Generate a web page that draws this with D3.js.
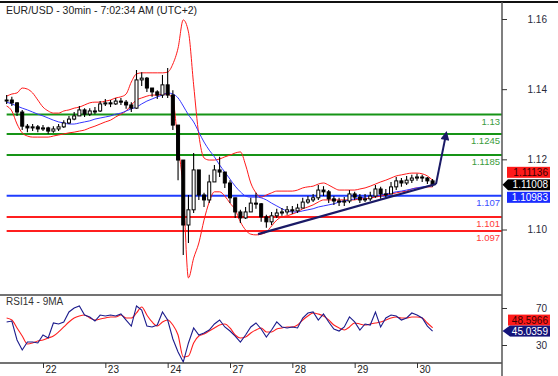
<!DOCTYPE html>
<html>
<head>
<meta charset="utf-8">
<script src="https://cdn.jsdelivr.net/npm/d3@7"></script>
<style>
body { margin: 0; background: #fff; }
svg { display: block; font-family: Arial, "Liberation Sans", sans-serif; }
</style>
</head>
<body>
<div id="chart"></div>
<script>
var width = 558;
var height = 376;
var axisX = 502;
var mainTop = 2, mainBottom = 295, rsiBottom = 363;

var title = "EUR/USD - 30min - 7:02:34 AM (UTC+2)";
var rsiTitle = "RSI14 - 9MA";

// trading days (weekend removed), one bar every 2 hours
var dayTicks = [0, 1, 2, 3, 4, 5, 6];
var dayLabels = ["22", "23", "24", "27", "28", "29", "30"];
var firstBar = -7 / 12, barStep = 1 / 12;

var closes = [1.1341,1.1333,1.1307,1.1267,1.1262,1.1265,1.1259,1.1262,1.1253,1.1259,
  1.1265,1.1276,1.1287,1.1296,1.1313,1.1301,1.1310,1.1310,1.1330,1.1333,
  1.1330,1.1338,1.1335,1.1327,1.1318,1.1398,1.1403,1.1375,1.1364,1.1355,
  1.1384,1.1355,1.1270,1.1171,1.0987,1.1030,1.1143,1.1072,1.1058,1.1109,
  1.1143,1.1137,1.1106,1.1064,1.1024,1.1007,1.1024,1.1049,1.1047,1.1010,
  1.0996,1.1013,1.1021,1.1024,1.1030,1.1027,1.1035,1.1052,1.1058,1.1064,
  1.1086,1.1081,1.1061,1.1055,1.1052,1.1055,1.1075,1.1066,1.1058,1.1061,
  1.1069,1.1089,1.1075,1.1075,1.1095,1.1112,1.1106,1.1114,1.1120,1.1123,
  1.1120,1.1112,1.11008];
var highs = [1.1355,1.1350,1.1335,1.1313,1.1273,1.1273,1.1270,1.1270,1.1265,1.1267,
  1.1273,1.1284,1.1296,1.1307,1.1324,1.1318,1.1318,1.1321,1.1338,1.1344,
  1.1341,1.1347,1.1347,1.1341,1.1335,1.1426,1.1420,1.1406,1.1375,1.1369,
  1.1412,1.1432,1.1369,1.1270,1.1171,1.1072,1.1191,1.1143,1.1078,1.1129,
  1.1157,1.1180,1.1137,1.1114,1.1064,1.1030,1.1038,1.1064,1.1078,1.1049,
  1.1016,1.1024,1.1033,1.1035,1.1041,1.1041,1.1047,1.1064,1.1069,1.1075,
  1.1100,1.1097,1.1086,1.1069,1.1064,1.1066,1.1086,1.1081,1.1075,1.1075,
  1.1081,1.1100,1.1095,1.1089,1.1109,1.1123,1.1120,1.1126,1.1129,1.1132,
  1.1129,1.1123,1.1117];
var lows = [1.1330,1.1324,1.1296,1.1256,1.1250,1.1253,1.1250,1.1253,1.1245,1.1248,
  1.1253,1.1262,1.1273,1.1284,1.1296,1.1293,1.1296,1.1301,1.1307,1.1324,
  1.1321,1.1327,1.1327,1.1316,1.1307,1.1316,1.1381,1.1364,1.1350,1.1344,
  1.1347,1.1347,1.1256,1.1114,1.0902,1.0936,1.1021,1.1058,1.1038,1.1049,
  1.1109,1.1123,1.1092,1.1049,1.1007,1.0993,1.1004,1.1024,1.1033,1.0996,
  1.0979,1.0987,1.1007,1.1013,1.1016,1.1018,1.1021,1.1035,1.1047,1.1052,
  1.1058,1.1069,1.1049,1.1044,1.1041,1.1041,1.1049,1.1058,1.1049,1.1052,
  1.1055,1.1064,1.1061,1.1061,1.1075,1.1086,1.1095,1.1100,1.1106,1.1112,
  1.1109,1.1103,1.1095];

var bbUpper = [1.1352,1.1358,1.1361,1.1375,1.1372,1.1361,1.1341,1.1321,1.1310,1.1304,
  1.1304,1.1310,1.1313,1.1318,1.1321,1.1327,1.1333,1.1335,1.1335,1.1338,
  1.1341,1.1347,1.1350,1.1358,1.1392,1.1415,1.1418,1.1418,1.1418,1.1418,
  1.1418,1.1420,1.1443,1.1488,1.1568,1.1534,1.1384,1.1242,1.1177,1.1171,
  1.1171,1.1174,1.1180,1.1185,1.1191,1.1194,1.1157,1.1106,1.1078,1.1066,
  1.1072,1.1078,1.1083,1.1083,1.1083,1.1083,1.1086,1.1092,1.1095,1.1097,
  1.1103,1.1106,1.1100,1.1092,1.1086,1.1086,1.1086,1.1086,1.1089,1.1092,
  1.1097,1.1103,1.1109,1.1114,1.1120,1.1126,1.1129,1.1132,1.1134,1.1134,
  1.1132,1.1126,1.11136];
var bbLower = [1.1324,1.1310,1.1273,1.1248,1.1239,1.1236,1.1236,1.1236,1.1236,1.1239,
  1.1242,1.1245,1.1248,1.1250,1.1253,1.1256,1.1262,1.1267,1.1273,1.1279,
  1.1284,1.1293,1.1301,1.1310,1.1327,1.1341,1.1347,1.1352,1.1355,1.1355,
  1.1358,1.1358,1.1341,1.1214,1.1086,1.0837,1.0893,1.0936,1.1001,1.1052,
  1.1081,1.1081,1.1069,1.1049,1.1030,1.0996,1.0973,1.0961,1.0959,1.0961,
  1.0967,1.0984,1.1001,1.1010,1.1013,1.1018,1.1024,1.1033,1.1038,1.1044,
  1.1052,1.1058,1.1058,1.1058,1.1058,1.1058,1.1058,1.1058,1.1061,1.1061,
  1.1064,1.1066,1.1069,1.1072,1.1075,1.1078,1.1081,1.1083,1.1089,1.1092,
  1.1092,1.1095,1.1095];
var maBlue = [1.1335,1.1330,1.1324,1.1318,1.1313,1.1307,1.1301,1.1296,1.1290,1.1284,
  1.1279,1.1276,1.1273,1.1273,1.1276,1.1279,1.1282,1.1287,1.1290,1.1293,
  1.1296,1.1301,1.1304,1.1310,1.1316,1.1321,1.1330,1.1338,1.1344,1.1350,
  1.1355,1.1361,1.1358,1.1347,1.1324,1.1299,1.1279,1.1250,1.1222,1.1199,
  1.1180,1.1157,1.1137,1.1117,1.1097,1.1081,1.1069,1.1066,1.1066,1.1064,
  1.1058,1.1049,1.1041,1.1033,1.1027,1.1024,1.1024,1.1027,1.1030,1.1033,
  1.1038,1.1041,1.1044,1.1047,1.1052,1.1055,1.1058,1.1061,1.1064,1.1066,
  1.1069,1.1069,1.1072,1.1075,1.1078,1.1081,1.1083,1.1086,1.1089,1.1092,
  1.1095,1.1097,1.10983];

var rsi = [54.9,55.9,35.4,24.6,33.2,33.2,32.2,40.8,37.6,53.8,
  52.7,54.9,65.7,70.0,72.2,62.4,60.3,55.9,62.4,61.4,
  62.4,61.4,63.5,57.0,50.5,72.2,67.8,50.5,49.5,51.6,
  65.7,57.0,36.5,22.4,11.6,32.2,48.4,40.8,43.0,46.2,
  52.7,57.0,49.5,45.1,39.7,33.2,40.8,49.5,53.8,47.3,
  38.6,46.2,54.9,49.5,48.4,49.5,48.4,59.2,64.6,65.7,
  57.0,63.5,54.9,47.3,45.1,49.5,60.3,54.9,46.2,52.7,
  51.6,65.7,49.5,59.2,62.4,61.4,57.0,59.2,64.6,62.4,
  59.2,50.5,45.0359];
var rsiMa = [59.2,57.0,48.4,39.7,31.1,32.2,34.3,35.4,37.6,39.7,
  44.1,49.5,54.9,59.2,61.4,62.4,59.2,57.0,58.1,59.2,
  60.3,60.3,62.4,59.2,59.2,64.6,71.1,62.4,54.9,50.5,
  54.9,57.0,51.6,40.8,17.0,18.1,32.2,39.7,41.9,45.1,
  48.4,51.6,52.7,48.4,40.8,37.6,38.6,43.0,46.2,48.4,
  44.1,44.1,47.3,48.4,49.5,49.5,51.6,57.0,61.4,64.6,
  63.5,61.4,57.0,51.6,48.4,46.2,49.5,53.8,52.7,51.6,
  52.7,53.8,54.9,57.0,59.2,60.3,59.2,59.2,60.3,60.3,
  59.2,53.8,48.5966];

var priceTicks = [1.10, 1.12, 1.14, 1.16];
var rsiTicks = [30, 70];

var levelValues = [1.13, 1.1245, 1.1185, 1.107, 1.101, 1.097];
var levelLabels = ["1.13", "1.1245", "1.1185", "1.107", "1.101", "1.097"];
var levelKinds = ["res", "res", "res", "pivot", "sup", "sup"];

var trendLine = [[3.45, 1.0961], [6.305, 1.1103]];
var arrowLine = [[6.305, 1.1103], [6.47, 1.1248]];

var levelStyle = {
  res:   { line: "#169416", text: "#3c9c3c" },
  pivot: { line: "#1f3cff", text: "#3a4fff" },
  sup:   { line: "#ff1f1f", text: "#ff3a3a" }
};
var navy = "#1a1a66";

var svg = d3.select("#chart").append("svg")
  .attr("width", width)
  .attr("height", height);

var x = d3.scaleLinear().domain([0, 6]).range([43, 417]);
var y = d3.scaleLinear().domain([1.097, 1.13]).range([231, 114.5]);
var yAxisScale = d3.scaleLinear().domain([1.10, 1.16]).range([229.5, 19]);
var rsiY = d3.scaleLinear().domain([30, 70]).range([345, 308]);

function barDay(i) { return firstBar + i * barStep; }

var defs = svg.append("defs");
defs.append("clipPath").attr("id", "clipMain").append("rect")
  .attr("x", 0).attr("y", mainTop + 1).attr("width", axisX).attr("height", mainBottom - mainTop - 1);
defs.append("clipPath").attr("id", "clipRsi").append("rect")
  .attr("x", 0).attr("y", mainBottom + 1).attr("width", axisX).attr("height", rsiBottom - mainBottom - 1);
defs.append("marker")
  .attr("id", "arrowHead")
  .attr("viewBox", "0 0 10 10")
  .attr("refX", 8).attr("refY", 5)
  .attr("markerUnits", "userSpaceOnUse")
  .attr("markerWidth", 10).attr("markerHeight", 9)
  .attr("orient", "auto")
  .append("path").attr("d", "M0,0 L10,5 L0,10 z").attr("fill", navy);

var main = svg.append("g").attr("clip-path", "url(#clipMain)");

// support / resistance levels
levelValues.forEach(function (v, i) {
  var st = levelStyle[levelKinds[i]];
  main.append("line")
    .attr("x1", x(barDay(0))).attr("x2", axisX)
    .attr("y1", y(v)).attr("y2", y(v))
    .attr("stroke", st.line).attr("stroke-width", 2);
  main.append("text")
    .attr("x", axisX - 2).attr("y", y(v) + 10)
    .attr("text-anchor", "end")
    .style("font-size", "9.5px")
    .style("fill", st.text)
    .text(levelLabels[i]);
});

var idx = d3.range(closes.length);
function seriesLine(arr, scale) {
  return d3.line()
    .x(function (i) { return x(barDay(i)); })
    .y(function (i) { return scale(arr[i]); });
}

main.append("path").datum(idx)
  .attr("d", seriesLine(bbUpper, y).curve(d3.curveMonotoneX))
  .attr("fill", "none").attr("stroke", "#ff1a1a").attr("stroke-width", 1);
main.append("path").datum(idx)
  .attr("d", seriesLine(bbLower, y).curve(d3.curveMonotoneX))
  .attr("fill", "none").attr("stroke", "#ff1a1a").attr("stroke-width", 1);
main.append("path").datum(idx)
  .attr("d", seriesLine(maBlue, y).curve(d3.curveMonotoneX))
  .attr("fill", "none").attr("stroke", "#3636ff").attr("stroke-width", 1);

// candles, open taken from the previous close
var candles = main.append("g");
idx.forEach(function (i) {
  var o = i > 0 ? closes[i - 1] : closes[i];
  var c = closes[i];
  var hi = Math.max(highs[i], o, c), lo = Math.min(lows[i], o, c);
  var cx = x(barDay(i));
  candles.append("line")
    .attr("x1", cx).attr("x2", cx)
    .attr("y1", y(hi)).attr("y2", y(lo))
    .attr("stroke", "#000").attr("stroke-width", 1.1);
  var top = y(Math.max(o, c)), bot = y(Math.min(o, c));
  candles.append("rect")
    .attr("x", cx - 1.5).attr("width", 3)
    .attr("y", top).attr("height", Math.max(1, bot - top))
    .attr("fill", c >= o ? "#fff" : "#000")
    .attr("stroke", "#000").attr("stroke-width", 1);
});

// trend line and projection arrow
var annLine = d3.line()
  .x(function (d) { return x(d[0]); })
  .y(function (d) { return y(d[1]); });
main.append("path").datum(trendLine)
  .attr("d", annLine).attr("stroke", navy).attr("stroke-width", 2.2).attr("fill", "none");
main.append("path").datum(arrowLine)
  .attr("d", annLine).attr("stroke", navy).attr("stroke-width", 2)
  .attr("fill", "none").attr("marker-end", "url(#arrowHead)");

// RSI panel
var rsiG = svg.append("g").attr("clip-path", "url(#clipRsi)");
rsiG.append("path").datum(idx)
  .attr("d", seriesLine(rsiMa, rsiY).curve(d3.curveMonotoneX))
  .attr("fill", "none").attr("stroke", "#ff2020").attr("stroke-width", 1.1);
rsiG.append("path").datum(idx)
  .attr("d", seriesLine(rsi, rsiY))
  .attr("fill", "none").attr("stroke", "#1c1c8c").attr("stroke-width", 1.1);

// frame
svg.append("line").attr("x1", 0).attr("x2", width).attr("y1", mainTop).attr("y2", mainTop)
  .attr("stroke", "#111").attr("stroke-width", 2);
svg.append("line").attr("x1", 0).attr("x2", axisX).attr("y1", mainBottom).attr("y2", mainBottom)
  .attr("stroke", "#444").attr("stroke-width", 1.3);
svg.append("line").attr("x1", 0).attr("x2", axisX).attr("y1", rsiBottom).attr("y2", rsiBottom)
  .attr("stroke", "#444").attr("stroke-width", 1.3);
svg.append("line").attr("x1", axisX).attr("x2", axisX).attr("y1", mainTop).attr("y2", height)
  .attr("stroke", "#555").attr("stroke-width", 1.5);

// right price axis
var yAxis = svg.append("g")
  .attr("transform", "translate(" + axisX + ",0)")
  .call(d3.axisRight(yAxisScale).tickValues(priceTicks).tickSize(5).tickFormat(d3.format(".2f")));
var rAxis = svg.append("g")
  .attr("transform", "translate(" + axisX + ",0)")
  .call(d3.axisRight(rsiY).tickValues(rsiTicks).tickSize(5));
[yAxis, rAxis].forEach(function (g) {
  g.select(".domain").remove();
  g.selectAll(".tick line").attr("stroke", "#333");
  g.selectAll(".tick text")
    .attr("x", 45).attr("text-anchor", "end")
    .style("font-size", "10px").style("fill", "#2a2a3a")
    .attr("font-family", null);
});

// bottom day axis
var xAxis = svg.append("g")
  .attr("transform", "translate(0," + rsiBottom + ")")
  .call(d3.axisBottom(x).tickValues(dayTicks).tickSize(5)
    .tickFormat(function (d, i) { return dayLabels[i]; }));
xAxis.select(".domain").remove();
xAxis.selectAll(".tick line").attr("stroke", "#333");
xAxis.selectAll(".tick text")
  .attr("x", 2).attr("y", 3).attr("text-anchor", "start")
  .style("font-size", "10px").style("fill", "#222")
  .attr("font-family", null);

// last value tags
function tag(val, cy, fill, textFill, left, pointer) {
  var g = svg.append("g");
  if (pointer) {
    g.append("path")
      .attr("d", "M" + (axisX + 0.5) + "," + cy + "L" + left + "," + (cy - 5.5) + "L" + left + "," + (cy + 5.5) + "Z")
      .attr("fill", fill);
  }
  g.append("rect")
    .attr("x", left).attr("y", cy - 5.5)
    .attr("width", 550 - left).attr("height", 11)
    .attr("fill", fill);
  g.append("text")
    .attr("x", 548).attr("y", cy).attr("dy", "0.36em")
    .attr("text-anchor", "end")
    .style("font-size", "10px").style("fill", textFill)
    .text(val);
}
var lastI = closes.length - 1;
var cLast = y(closes[lastI]);
tag(bbUpper[lastI].toFixed(5), cLast - 12.5, "#ff1a1a", "#3a0000", 507, false);
tag(closes[lastI].toFixed(5), cLast, "#000", "#fff", 508, true);
tag(maBlue[lastI].toFixed(5), cLast + 12.5, "#1a2cff", "#fff", 507, false);
var rLast = rsiY(rsi[lastI]);
tag(rsiMa[lastI].toFixed(4), rLast - 11, "#ff1a1a", "#3a0000", 508, false);
tag(rsi[lastI].toFixed(4), rLast, "#14147a", "#fff", 510, true);

// titles
svg.append("text").attr("x", 6).attr("y", 14)
  .style("font-size", "10.5px").style("fill", "#222").text(title);
svg.append("text").attr("x", 6).attr("y", 305)
  .style("font-size", "10px").style("fill", "#333").text(rsiTitle);
</script>
</body>
</html>
